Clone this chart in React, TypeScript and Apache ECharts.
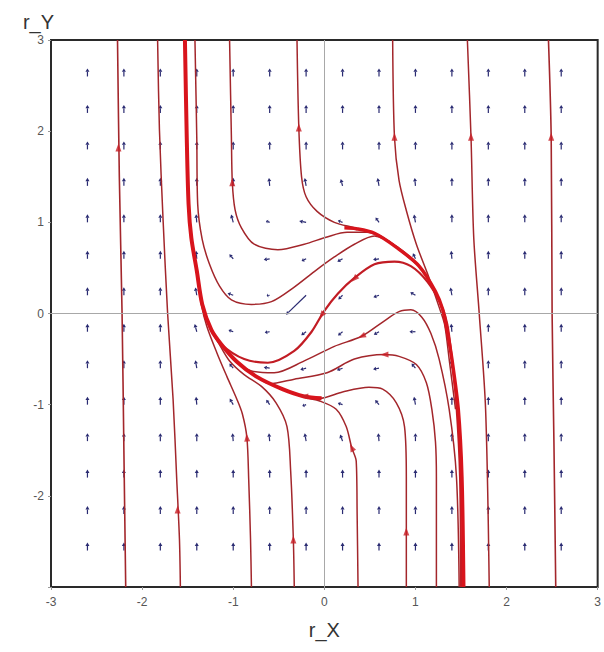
import { useEffect, useRef } from "react";
import * as echarts from "echarts";

type Pt = [number, number];

// Sampling grid of the direction field (arrow tails sit on these points)
const gridX = [-2.6, -2.2, -1.8, -1.4, -1.0, -0.6, -0.2, 0.2, 0.6, 1.0, 1.4, 1.8, 2.2, 2.6];
const gridY = [2.6, 2.2, 1.8, 1.4, 1.0, 0.6, 0.2, -0.2, -0.6, -1.0, -1.4, -1.8, -2.2, -2.6];

// Arrow direction in degrees (90 = straight up), one row per gridY value
const fieldAngle: number[][] = [
  [90, 90, 90, 90, 90, 90, 90, 90, 90, 90, 90, 90, 90, 90],
  [90, 90, 90, 90, 90, 90, 90, 90, 90, 90, 90, 90, 90, 90],
  [90, 90, 90, 90, 90, 90, 90, 90, 90, 90, 90, 90, 90, 90],
  [90, 90, 90, 90, 90, 95, 100, 105, 100, 95, 90, 90, 90, 90],
  [90, 90, 90, 95, 105, 160, 170, 160, 125, 100, 90, 90, 90, 90],
  [90, 90, 90, 95, 130, 190, 205, 210, 190, 115, 95, 90, 90, 90],
  [90, 90, 90, 100, 160, 190, 224, 225, 200, 150, 100, 90, 90, 90],
  [90, 90, 90, 105, 160, 190, 215, 220, 210, 180, 95, 90, 90, 90],
  [90, 90, 90, 100, 130, 170, 195, 200, 190, 130, 95, 90, 90, 90],
  [90, 90, 90, 95, 120, 125, 200, 160, 130, 100, 90, 90, 90, 90],
  [90, 90, 90, 90, 95, 95, 100, 110, 95, 90, 90, 90, 90, 90],
  [90, 90, 90, 90, 90, 90, 90, 90, 90, 90, 90, 90, 90, 90],
  [90, 90, 90, 90, 90, 90, 90, 90, 90, 90, 90, 90, 90, 90],
  [90, 90, 90, 90, 90, 90, 90, 90, 90, 90, 90, 90, 90, 90],
];

// Arrow length in pixels, same layout as fieldAngle
const fieldLength: number[][] = [
  [8, 8, 8, 8, 8, 8, 8, 8, 8, 8, 8, 8, 8, 8],
  [8, 8, 8, 8, 8, 8, 8, 8, 8, 8, 8, 8, 8, 8],
  [8, 8, 8, 8, 8, 8, 8, 8, 8, 8, 8, 8, 8, 8],
  [8, 8, 8, 8, 8, 8, 8, 7, 8, 8, 8, 8, 8, 8],
  [8, 8, 8, 8, 8, 4, 7, 5, 6, 8, 8, 8, 8, 8],
  [8, 8, 8, 8, 6, 6, 5, 6, 6, 6, 8, 8, 8, 8],
  [8, 8, 8, 8, 6, 3, 28, 6, 6, 6, 8, 8, 8, 8],
  [8, 8, 8, 8, 5, 5, 6, 6, 6, 6, 8, 8, 8, 8],
  [8, 8, 8, 8, 6, 6, 6, 6, 6, 6, 8, 8, 8, 8],
  [8, 8, 8, 8, 7, 6, 4, 5, 6, 8, 8, 8, 8, 8],
  [8, 8, 8, 8, 8, 8, 8, 7, 8, 8, 8, 8, 8, 8],
  [8, 8, 8, 8, 8, 8, 8, 8, 8, 8, 8, 8, 8, 8],
  [8, 8, 8, 8, 8, 8, 8, 8, 8, 8, 8, 8, 8, 8],
  [8, 8, 8, 8, 8, 8, 8, 8, 8, 8, 8, 8, 8, 8],
];

// Stream lines (r_X, r_Y)
const leftOuter: Pt[] = [[-2.27, 3], [-2.25, 1.5], [-2.22, 0], [-2.2, -1.5], [-2.18, -3]];
const leftSecond: Pt[] = [[-1.83, 3], [-1.81, 2.02], [-1.77, 1.03], [-1.72, 0], [-1.66, -0.94], [-1.62, -1.82], [-1.59, -2.48], [-1.58, -3]];
const leftTrunk: Pt[] = [[-1.53, 3], [-1.51, 1.93], [-1.49, 1.2], [-1.46, 0.83], [-1.4, 0.47], [-1.34, 0.1], [-1.24, -0.18], [-1.13, -0.34], [-0.96, -0.53], [-0.75, -0.69], [-0.46, -0.83], [-0.22, -0.91], [-0.03, -0.93]];
const upperA: Pt[] = [[-1.42, 3], [-1.4, 1.93], [-1.39, 1.2], [-1.34, 0.81], [-1.26, 0.54], [-1.15, 0.3], [-1.02, 0.15], [-0.8, 0.1], [-0.58, 0.13], [-0.33, 0.29], [-0.11, 0.46], [0.11, 0.62], [0.33, 0.76], [0.55, 0.85], [0.8, 0.73], [1.04, 0.52], [1.22, 0.24]];
const upperB: Pt[] = [[-1.04, 3], [-1.02, 1.93], [-1.01, 1.44], [-0.98, 1.14], [-0.91, 0.94], [-0.77, 0.76], [-0.51, 0.7], [-0.22, 0.76], [0.03, 0.84], [0.25, 0.89], [0.47, 0.89], [0.7, 0.8], [0.8, 0.72], [1.04, 0.52]];
const upperC: Pt[] = [[-0.3, 3], [-0.28, 2.04], [-0.25, 1.5], [-0.2, 1.28], [-0.08, 1.12], [0.11, 1.0], [0.33, 0.94], [0.6, 0.86], [0.8, 0.72], [1.04, 0.52]];
const rightTrunk: Pt[] = [[0.22, 0.94], [0.35, 0.93], [0.55, 0.88], [0.8, 0.72], [1.04, 0.52], [1.22, 0.24], [1.3, 0.04], [1.35, -0.2], [1.4, -0.5], [1.47, -1.05], [1.51, -1.79], [1.53, -3]];
const topRightA: Pt[] = [[0.75, 3], [0.77, 1.93], [0.82, 1.46], [0.9, 1.13], [1.01, 0.76], [1.15, 0.39], [1.26, 0.07], [1.32, -0.12], [1.37, -0.5], [1.44, -1.05]];
const topRightB: Pt[] = [[1.57, 3], [1.61, 1.93], [1.64, 0.83], [1.7, 0], [1.77, -1.05], [1.81, -3]];
const topRightC: Pt[] = [[2.46, 3], [2.49, 1.93], [2.5, 0], [2.52, -1.41], [2.54, -3]];
const archA: Pt[] = [[1.5, -3], [1.49, -1.8], [1.45, -1.0], [1.4, -0.5], [1.35, -0.12], [1.28, 0.1], [1.13, 0.35], [0.95, 0.52], [0.77, 0.57], [0.55, 0.54], [0.33, 0.39], [0.15, 0.22], [0.0, 0.03], [-0.14, -0.2], [-0.33, -0.41], [-0.62, -0.54], [-0.88, -0.5], [-1.13, -0.34], [-1.24, -0.18], [-1.34, 0.1]];
const archB: Pt[] = [[1.48, -3], [1.45, -1.79], [1.37, -1.05], [1.26, -0.5], [1.17, -0.22], [1.07, -0.04], [0.95, 0.04], [0.82, 0.02], [0.66, -0.08], [0.41, -0.25], [0.11, -0.36], [-0.22, -0.52], [-0.55, -0.65], [-0.8, -0.63], [-0.96, -0.53], [-1.13, -0.34], [-1.24, -0.18]];
const archC: Pt[] = [[1.23, -3], [1.23, -1.79], [1.22, -1.41], [1.18, -1.05], [1.12, -0.76], [1.01, -0.56], [0.82, -0.47], [0.66, -0.45], [0.33, -0.5], [0.03, -0.65], [-0.33, -0.72], [-0.6, -0.77], [-0.75, -0.69], [-0.96, -0.53], [-1.13, -0.34]];
const archD: Pt[] = [[0.9, -3], [0.9, -2.39], [0.9, -1.79], [0.88, -1.24], [0.79, -0.98], [0.64, -0.83], [0.49, -0.81], [0.2, -0.86], [-0.05, -0.93], [-0.22, -0.91], [-0.46, -0.83], [-0.75, -0.69]];
const archE: Pt[] = [[0.37, -3], [0.36, -2.2], [0.35, -1.62], [0.3, -1.47], [0.24, -1.24], [0.13, -1.05], [-0.05, -0.96], [-0.22, -0.92], [-0.46, -0.83], [-0.75, -0.69]];
const lowerA: Pt[] = [[-0.8, -3], [-0.81, -2.48], [-0.83, -1.82], [-0.85, -1.36], [-0.9, -1.1], [-0.96, -0.94], [-1.07, -0.69], [-1.18, -0.43], [-1.29, -0.14], [-1.35, 0.1], [-1.4, 0.47]];
const lowerB: Pt[] = [[-0.33, -3], [-0.34, -2.48], [-0.37, -1.72], [-0.41, -1.24], [-0.53, -0.98], [-0.69, -0.8], [-0.88, -0.67], [-1.04, -0.52], [-1.14, -0.36], [-1.24, -0.18], [-1.34, 0.1]];

// Arrowheads on the stream lines: r_X, r_Y, heading in degrees
const flowArrows: [number, number, number][] = [
  [-2.26, 1.82, 90],
  [-1.61, -2.15, 90],
  [-1.01, 1.44, 90],
  [-0.28, 2.04, 90],
  [0.77, 1.94, 90],
  [1.61, 1.94, 90],
  [2.49, 1.94, 90],
  [-0.85, -1.36, 95],
  [-0.34, -2.48, 90],
  [0.3, -1.47, 115],
  [0.9, -2.39, 90],
  [0.33, 0.38, 225],
  [-0.03, -0.02, 235],
  [0.41, -0.25, 205],
  [0.66, -0.45, 182],
  [-0.22, -0.91, 178],
];

const thinRed = "#a3262b";
const brightRed = "#d8141c";
const fieldColor = "#2a2b72";
const font = "'Liberation Sans', Arial, sans-serif";

function streamSeries(data: Pt[], width: number, color: string, z: number) {
  return {
    type: "line",
    data,
    smooth: 0.3,
    showSymbol: false,
    symbol: "none",
    silent: true,
    z,
    lineStyle: { width, color },
  };
}

export default function App() {
  const ref = useRef<HTMLDivElement>(null);

  useEffect(() => {
    if (!ref.current) return;
    const chart = echarts.init(ref.current, undefined, { renderer: "svg" });

    const fieldData: number[][] = [];
    gridY.forEach((y, r) => {
      gridX.forEach((x, c) => {
        fieldData.push([x, y, fieldAngle[r][c], fieldLength[r][c]]);
      });
    });

    const option: any = {
      animation: false,
      backgroundColor: "#ffffff",
      grid: {
        left: 51,
        right: 5,
        top: 40,
        bottom: 65,
        show: true,
        borderColor: "#2a2a2a",
        borderWidth: 2,
        backgroundColor: "#ffffff",
      },
      xAxis: {
        type: "value",
        min: -3,
        max: 3,
        interval: 1,
        name: "r_X",
        nameLocation: "middle",
        nameGap: 33,
        nameTextStyle: { fontSize: 20, color: "#333", fontFamily: font },
        axisLine: { show: false, onZero: false },
        axisTick: { show: true, length: 3, lineStyle: { color: "#999" } },
        splitLine: { show: false },
        axisLabel: { color: "#555", fontSize: 12, margin: 9, fontFamily: font },
      },
      yAxis: {
        type: "value",
        min: -3,
        max: 3,
        interval: 1,
        name: "r_Y",
        nameLocation: "end",
        nameGap: 8,
        nameTextStyle: { fontSize: 20, color: "#333", fontFamily: font, align: "right", padding: [0, -3, 0, 0] },
        axisLine: { show: false, onZero: false },
        axisTick: { show: true, length: 3, lineStyle: { color: "#999" } },
        splitLine: { show: false },
        axisLabel: {
          color: "#555",
          fontSize: 12,
          margin: 7,
          fontFamily: font,
          formatter: (v: number) => (v === -3 ? "" : String(v)),
        },
      },
      series: [
        {
          type: "line",
          data: [],
          silent: true,
          z: 1,
          markLine: {
            silent: true,
            symbol: ["none", "none"],
            label: { show: false },
            lineStyle: { color: "#a8a8a8", width: 1, type: "solid" },
            data: [{ xAxis: 0 }, { yAxis: 0 }],
          },
        },
        {
          type: "custom",
          data: fieldData,
          silent: true,
          z: 2,
          renderItem: (params: any, api: any) => {
            const p = api.coord([api.value(0), api.value(1)]);
            const a = (api.value(2) * Math.PI) / 180;
            const len = api.value(3);
            const dx = Math.cos(a);
            const dy = -Math.sin(a);
            const hx = p[0] + dx * len;
            const hy = p[1] + dy * len;
            const hl = Math.min(3.4, len * 0.5);
            const hw = 2;
            const bx = hx - dx * hl;
            const by = hy - dy * hl;
            const nx = -dy;
            const ny = dx;
            return {
              type: "group",
              children: [
                {
                  type: "line",
                  shape: { x1: p[0], y1: p[1], x2: bx, y2: by },
                  style: { stroke: fieldColor, lineWidth: 1.2 },
                },
                {
                  type: "polygon",
                  shape: {
                    points: [
                      [hx, hy],
                      [bx + nx * hw, by + ny * hw],
                      [bx - nx * hw, by - ny * hw],
                    ],
                  },
                  style: { fill: fieldColor },
                },
              ],
            };
          },
        },
        streamSeries(leftOuter, 1.6, thinRed, 3),
        streamSeries(leftSecond, 1.5, thinRed, 3),
        streamSeries(upperA, 1.5, thinRed, 3),
        streamSeries(upperB, 1.5, thinRed, 3),
        streamSeries(upperC, 1.5, thinRed, 3),
        streamSeries(topRightA, 1.5, thinRed, 3),
        streamSeries(topRightB, 1.5, thinRed, 3),
        streamSeries(topRightC, 1.6, thinRed, 3),
        streamSeries(archB, 1.5, thinRed, 3),
        streamSeries(archC, 1.5, thinRed, 3),
        streamSeries(archD, 1.5, thinRed, 3),
        streamSeries(archE, 1.5, thinRed, 3),
        streamSeries(lowerA, 1.5, thinRed, 3),
        streamSeries(lowerB, 1.5, thinRed, 3),
        streamSeries(archA, 2.2, "#c21c24", 4),
        streamSeries(leftTrunk, 4, brightRed, 5),
        streamSeries(rightTrunk, 3.5, brightRed, 5),
        {
          type: "scatter",
          silent: true,
          z: 6,
          symbol: "triangle",
          symbolSize: [6, 8],
          itemStyle: { color: "#c81e26" },
          data: flowArrows.map((a) => ({ value: [a[0], a[1]], symbolRotate: a[2] - 90 })),
        },
      ],
    };

    chart.setOption(option);
    return () => chart.dispose();
  }, []);

  return (
    <div
      ref={ref}
      style={{ position: "absolute", left: 0, top: 0, width: 604, height: 652 }}
    />
  );
}
